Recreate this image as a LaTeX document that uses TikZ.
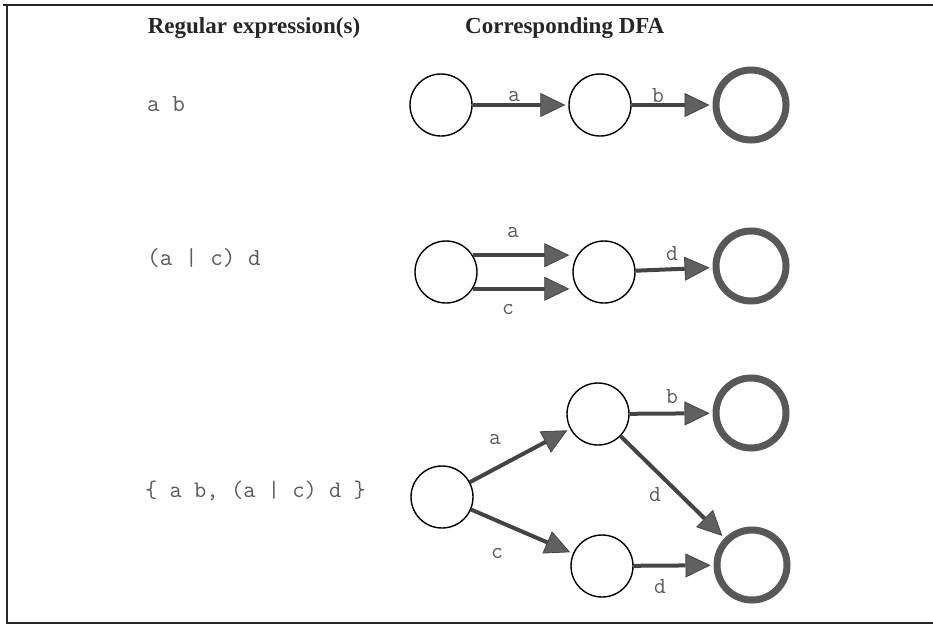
\documentclass[tikz,border=0pt]{standalone}
\usepackage{fontspec}
\setmainfont{Liberation Serif}
\usetikzlibrary{arrows.meta}
\definecolor{codegray}{HTML}{5A5A5A}
\definecolor{edgegray}{HTML}{444444}
\definecolor{tipgray}{HTML}{606060}
\definecolor{ringgray}{HTML}{585858}
\tikzset{
  state/.style={circle, draw=black, line width=1.4pt, minimum size=62pt, inner sep=0pt},
  accepting/.style={circle, draw=ringgray, line width=7pt, minimum size=70pt, inner sep=0pt},
  trans/.style={draw=edgegray, line width=4pt,
    -{Triangle[length=25pt, width=24pt, fill=tipgray, line width=0.8pt]}, shorten >=3pt},
  heading/.style={font=\fontsize{23}{26}\selectfont\bfseries, text=black!85, inner sep=0pt},
  regex/.style={font=\ttfamily\fontsize{24.5}{27}\selectfont, text=codegray, anchor=west, inner sep=0pt},
  sym/.style={font=\ttfamily\fontsize{23}{26}\selectfont, text=codegray},
  frameline/.style={draw=black!85, line width=2pt}
}
\begin{document}
\begin{tikzpicture}[x=1pt, y=-1pt]
\useasboundingbox (0,0) rectangle (933,629);

% outer frame (open on the right)
\draw[frameline] (3,5) -- (933,5);
\draw[frameline] (7,5) -- (7,623) -- (933,623);

% column headings
\node[heading, anchor=base] (h1) at (254,33) {Regular expression(s)};
\node[heading, anchor=base west] (h2) at (465,33) {Corresponding DFA};

% regular expressions
\node[regex] (r1) at (147,104) {a b};
\node[regex] (r2) at (147,258) {(a | c) d};
\node[regex, font=\ttfamily\fontsize{23.8}{27}\selectfont] (r3) at (145,491) {\{ a b, (a | c) d \}};

% first DFA: a b
\node[state] (a1) at (441,105) {};
\node[state] (a2) at (600,105) {};
\node[accepting] (a3) at (751,105) {};
\draw[trans] (a1) -- (a2);
\draw[trans] (a2) -- (a3);
\node[sym] (la1) at (514,97) {a};
\node[sym] (la2) at (658,96) {b};

% second DFA: (a | c) d
\node[state] (b1) at (446,272) {};
\node[state] (b2) at (604,272) {};
\node[accepting] (b3) at (751,266) {};
\draw[trans] (b1.32) -- (b1.32 -| b2.west);
\draw[trans] (b1.-32) -- (b1.-32 -| b2.west);
\draw[trans] (b2) -- (b3);
\node[sym] (lb1) at (513,233) {a};
\node[sym] (lb2) at (508,310) {c};
\node[sym] (lb3) at (672,254) {d};

% third DFA: { a b, (a | c) d }
\node[state] (c1) at (442,497) {};
\node[state] (c2) at (598,414) {};
\node[accepting] (c3) at (751,413) {};
\node[state] (c4) at (602,566) {};
\node[accepting] (c5) at (752,565) {};
\draw[trans] (c1) -- (c2);
\draw[trans] (c1) -- (c4);
\draw[trans] (c2) -- (c3);
\draw[trans] (c2) -- (c5);
\draw[trans] (c4) -- (c5);
\node[sym] (lc1) at (495,440) {a};
\node[sym] (lc2) at (497,553) {c};
\node[sym] (lc3) at (672,397) {b};
\node[sym] (lc4) at (655,495) {d};
\node[sym] (lc5) at (660,587) {d};
\end{tikzpicture}
\end{document}
